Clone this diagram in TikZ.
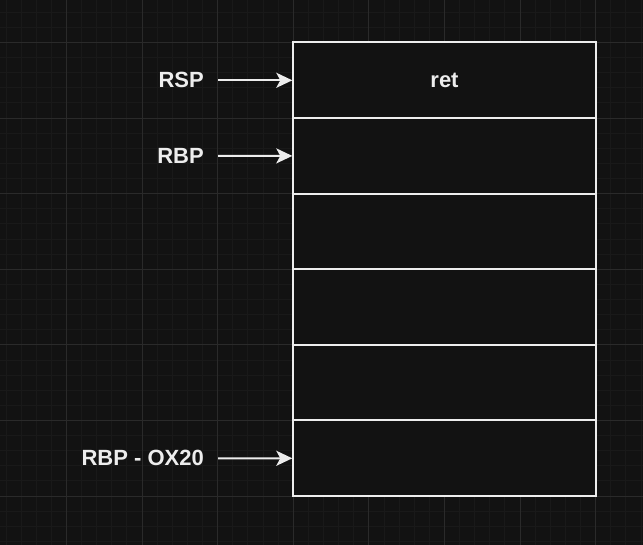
\documentclass[tikz,border=0pt]{standalone}
\usepackage{fontspec}
\setmainfont{Liberation Sans}
\usetikzlibrary{arrows.meta}
\definecolor{canvas}{HTML}{121212}
\definecolor{minorline}{HTML}{191919}
\definecolor{majorline}{HTML}{2A2A2A}
\definecolor{ink}{HTML}{EDEDED}
\tikzset{
  cell/.style={draw=ink,fill=canvas,line width=2pt,minimum width=302.4pt,minimum height=75.6pt,inner sep=0pt,text=ink,font=\fontsize{22}{26}\selectfont\bfseries},
  reg/.style={anchor=east,inner xsep=14pt,inner ysep=0pt,text=ink,font=\fontsize{22}{26}\selectfont\bfseries},
  pointer/.style={draw=ink,line width=2pt,-{Stealth[length=16pt,width=15pt,inset=4pt]}}
}
\begin{document}
\begin{tikzpicture}[x=1pt,y=-1pt]
		\useasboundingbox (0,0) rectangle (643,545);
		\fill[canvas] (0,0) rectangle (643,545);
		\begin{scope}
			\clip (0,0) rectangle (643,545);
			\draw[minorline,line width=1pt,shift={(293.3,42.5)},xstep=15.12pt,ystep=15.12pt] (-310,-60) grid (360,520);
			\draw[majorline,line width=1pt,shift={(293.3,42.5)},xstep=75.6pt,ystep=75.6pt] (-310,-60) grid (360,520);
		\end{scope}
		\foreach \i/\t in {1/ret,2/,3/,4/,5/,6/}
			\node[cell] (c\i) at (444.5,{4.7+75.6*\i}) {\t};
		\node[reg] (rsp) at (218,80.3) {RSP};
		\node[reg] (rbp) at (218,155.9) {RBP};
		\node[reg] (rbpoff) at (218,458.3) {RBP - OX20};
		\draw[pointer] (rsp.east) -- (c1.west);
		\draw[pointer] (rbp.east) -- (c2.west);
		\draw[pointer] (rbpoff.east) -- (c6.west);
	\end{tikzpicture}
\end{document}
